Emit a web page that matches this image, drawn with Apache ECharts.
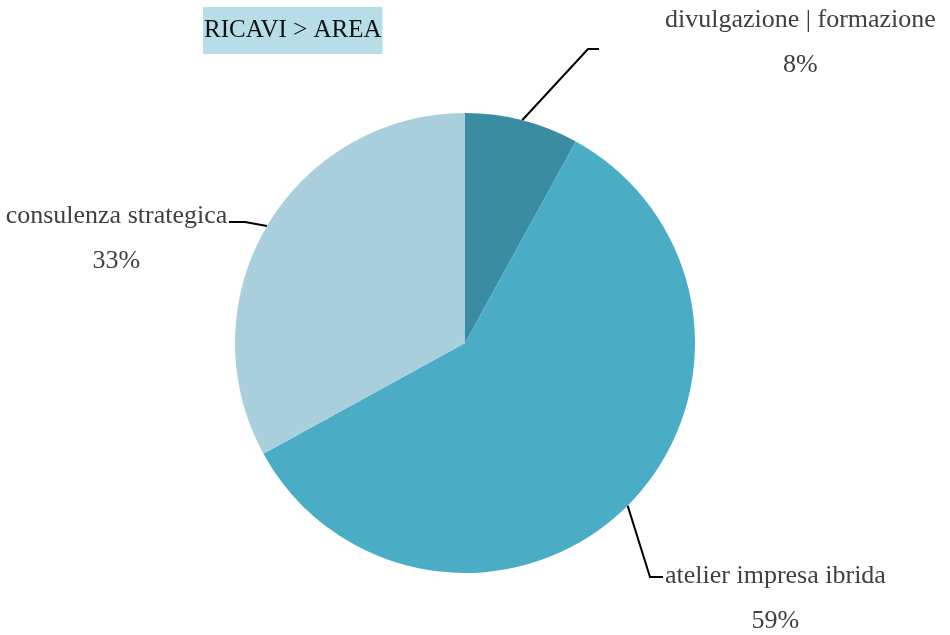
<!DOCTYPE html>
<html>
<head>
    <meta charset="utf-8">
    <title>RICAVI > AREA</title>
    <script src="https://cdn.jsdelivr.net/npm/echarts@6/dist/echarts.min.js"></script>
    <style>
        html, body { margin: 0; padding: 0; background: #fff; }
        #container { width: 950px; height: 635px; }
    </style>
</head>
<body>
<div id="container"></div>

<script type="text/javascript">
    // dati
    var categorie = ['divulgazione | formazione', 'atelier impresa ibrida', 'consulenza strategica'];
    var valori = [8, 59, 33];
    var colori = ['#3A8CA3', '#4BACC6', '#A9CFDC'];

    // posizione etichette (box) e linee guida
    var posEtichette = [
        { x: 665, y: -2, align: 'left', gomito: [588, 49], fine: [599, 49] },
        { x: 665, y: 554, align: 'left', gomito: [650, 577], fine: [663, 577] },
        { x: 221, y: 194, align: 'right', gomito: [245, 222], fine: [229, 222] }
    ];

    var fontSerif = '"Liberation Serif", "DejaVu Serif", serif';

    var dati = [];
    for (var i = 0; i < categorie.length; i++) {
        dati.push({ name: categorie[i], value: valori[i], itemStyle: { color: colori[i] } });
    }

    var mychart = echarts.init(document.getElementById('container'));

    var options = {
        animation: false,
        backgroundColor: '#fff',
        title: {
            text: 'RICAVI > AREA',
            left: 203,
            top: 7,
            padding: [11, 1, 11, 1],
            backgroundColor: '#B7DDE8',
            textStyle: {
                fontFamily: fontSerif,
                fontSize: 25,
                fontWeight: 'normal',
                color: '#111'
            }
        },
        series: [{
            type: 'pie',
            center: [465, 343],
            radius: 230,
            startAngle: 90,
            clockwise: true,
            itemStyle: { borderWidth: 0 },
            label: {
                show: true,
                position: 'outside',
                overflow: 'none',
                formatter: function (p) {
                    return '{n|' + p.name + '}\n{p|' + Math.round(p.percent) + '%}';
                },
                fontFamily: fontSerif,
                color: '#404040',
                rich: {
                    n: { fontFamily: fontSerif, fontSize: 26, lineHeight: 45, color: '#404040', align: 'center' },
                    p: { fontFamily: fontSerif, fontSize: 26, lineHeight: 45, color: '#404040', align: 'center' }
                }
            },
            labelLine: {
                show: true,
                lineStyle: { color: '#000', width: 2 }
            },
            labelLayout: function (params) {
                var cfg = posEtichette[params.dataIndex];
                var ancora = params.labelLinePoints ? params.labelLinePoints[0] : cfg.gomito;
                return {
                    x: cfg.x,
                    y: cfg.y,
                    align: cfg.align,
                    verticalAlign: 'top',
                    labelLinePoints: [ancora, cfg.gomito, cfg.fine]
                };
            },
            data: dati
        }]
    };

    mychart.setOption(options);
</script>
</body>
</html>
